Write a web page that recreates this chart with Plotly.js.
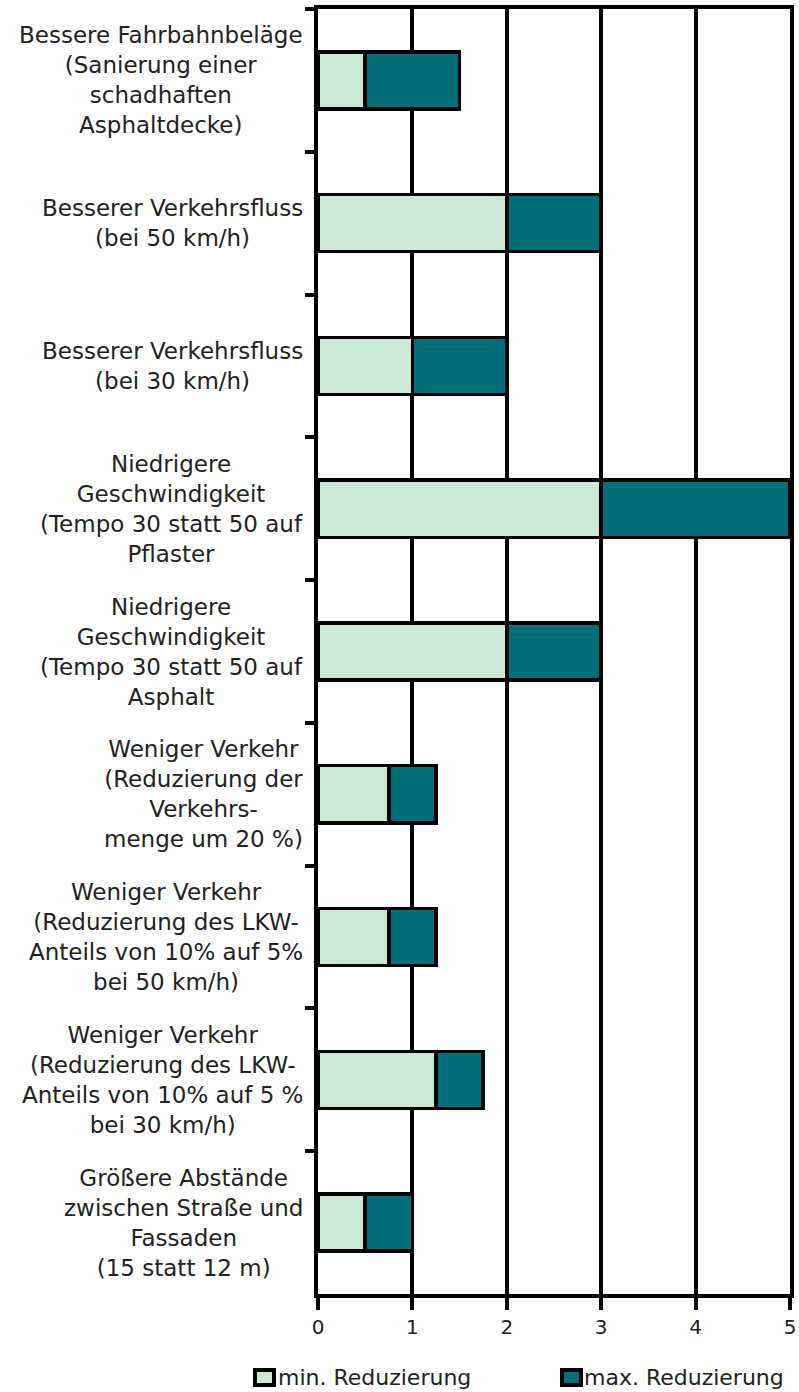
<!DOCTYPE html>
<html>
<head>
<meta charset="utf-8">
<script src="https://cdn.plot.ly/plotly-3.0.1.min.js"></script>
<style>html,body{margin:0;padding:0;background:#fff;}#chart{width:799px;height:1392px;}</style>
</head>
<body>
<div id="chart"></div>
<script>
// ---- data ----
const categories = [
  "Bessere Fahrbahnbeläge<br>(Sanierung einer<br>schadhaften<br>Asphaltdecke)",
  "Besserer Verkehrsfluss<br>(bei 50 km/h)",
  "Besserer Verkehrsfluss<br>(bei 30 km/h)",
  "Niedrigere<br>Geschwindigkeit<br>(Tempo 30 statt 50 auf<br>Pflaster",
  "Niedrigere<br>Geschwindigkeit<br>(Tempo 30 statt 50 auf<br>Asphalt",
  "Weniger Verkehr<br>(Reduzierung der<br>Verkehrs-<br>menge um 20 %)",
  "Weniger Verkehr<br>(Reduzierung des LKW-<br>Anteils von 10% auf 5%<br>bei 50 km/h)",
  "Weniger Verkehr<br>(Reduzierung des LKW-<br>Anteils von 10% auf 5 %<br>bei 30 km/h)",
  "Größere Abstände<br>zwischen Straße und<br>Fassaden<br>(15 statt 12 m)"
];
const minReduction = [0.5, 2, 1, 3, 2, 0.75, 0.75, 1.25, 0.5];
const maxReduction = [1.5, 3, 2, 5, 3, 1.25, 1.25, 1.75, 1.0];
const xTickValues = [0, 1, 2, 3, 4, 5];
const seriesNames = ["min. Reduzierung", "max. Reduzierung"];

// ---- styles ----
const lightColor = "#cde7d7";
const darkColor = "#006f7a";
const textColor = "#222";
const fontFamily = "DejaVu Sans, sans-serif";

// plot area in pixels
const W = 799, H = 1392;
const L = 318, R = 790, T = 9, B = 1294;
const px = v => (v - L) / (R - L);
const py = v => (B - v) / (B - T);

const diff = maxReduction.map((m, i) => m - minReduction[i]);

const traces = [
  {
    type: "bar", orientation: "h", name: seriesNames[0],
    y: categories, x: minReduction, width: 0.4,
    marker: {color: lightColor, line: {color: "#000", width: 3.5}},
    hoverinfo: "skip", showlegend: false
  },
  {
    type: "bar", orientation: "h", name: seriesNames[1],
    y: categories, x: diff, width: 0.4,
    marker: {color: darkColor, line: {color: "#000", width: 3.5}},
    hoverinfo: "skip", showlegend: false
  }
];

const annotations = categories.map((c, i) => ({
  xref: "paper", yref: "y", x: px(305), y: i,
  xanchor: "right", yanchor: "middle", align: "center",
  text: c, showarrow: false,
  font: {family: fontFamily, size: 23, color: textColor}
}));

annotations.push(
  {xref: "paper", yref: "paper", x: px(276), y: py(1377), xanchor: "left", yanchor: "middle",
   text: seriesNames[0], showarrow: false, font: {family: fontFamily, size: 22, color: textColor}},
  {xref: "paper", yref: "paper", x: px(582), y: py(1377), xanchor: "left", yanchor: "middle",
   text: seriesNames[1], showarrow: false, font: {family: fontFamily, size: 22, color: textColor}}
);

const shapes = [
  {type: "rect", xref: "paper", yref: "paper", x0: px(255), x1: px(274), y0: py(1370), y1: py(1385),
   fillcolor: lightColor, line: {color: "#000", width: 4}},
  {type: "rect", xref: "paper", yref: "paper", x0: px(562), x1: px(581), y0: py(1370), y1: py(1385),
   fillcolor: darkColor, line: {color: "#000", width: 4}}
];

const layout = {
  width: W, height: H,
  margin: {l: L, r: W - R, t: T, b: H - B, pad: 0},
  paper_bgcolor: "#fff", plot_bgcolor: "#fff",
  barmode: "stack",
  showlegend: false,
  xaxis: {
    range: [0, 5], tickvals: xTickValues, ticktext: xTickValues.map(String),
    showgrid: true, gridcolor: "#000", gridwidth: 4, zeroline: false,
    showline: true, linecolor: "#000", linewidth: 4, mirror: true,
    ticks: "outside", ticklen: 12, tickwidth: 4, tickcolor: "#000",
    tickfont: {family: fontFamily, size: 20, color: textColor}
  },
  yaxis: {
    type: "category", categoryorder: "array", categoryarray: categories,
    range: [8.5, -0.5],
    showgrid: false, zeroline: false,
    showline: true, linecolor: "#000", linewidth: 4, mirror: true,
    ticks: "outside", tickson: "boundaries", ticklen: 9, tickwidth: 4, tickcolor: "#000",
    showticklabels: false
  },
  annotations: annotations,
  shapes: shapes
};

Plotly.newPlot("chart", traces, layout, {staticPlot: true, displayModeBar: false});
</script>
</body>
</html>
